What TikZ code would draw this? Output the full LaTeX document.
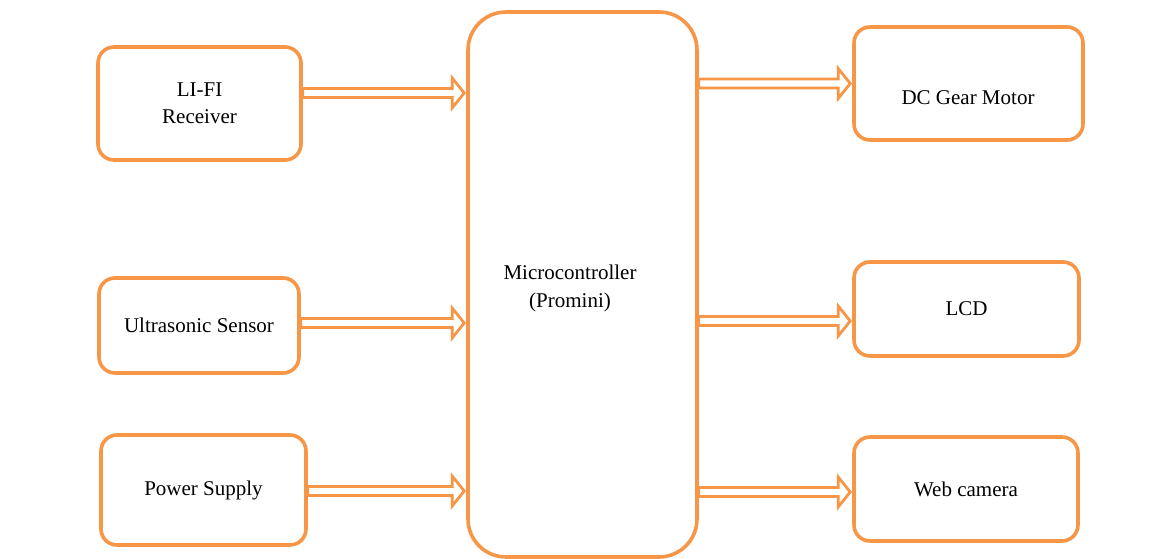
\documentclass[tikz,border=0pt]{standalone}
\usepackage{fontspec}
\setmainfont{Liberation Serif}
\usetikzlibrary{calc}
\definecolor{borange}{RGB}{247,150,70}
\tikzset{
  box/.style={draw=borange, line width=3.6pt, rounded corners=16pt, fill=white, align=center,
    font=\fontsize{21}{25}\selectfont, inner sep=0pt},
  bigbox/.style={box, rounded corners=38pt},
  lbl/.style={font=\fontsize{21}{25}\selectfont, align=center, inner sep=0pt},
  harrowstyle/.style={draw=borange, line width=2.8pt, fill=white, line join=miter}
}
\newcommand\harrow[2]{%
  \path[harrowstyle] let \p1=(#1), \p2=(#2) in
    (\x1,\y1+4.5pt) -- (\x2-14pt,\y1+4.5pt) -- (\x2-14pt,\y1+15pt) -- (\x2-2pt,\y1)
    -- (\x2-14pt,\y1-15pt) -- (\x2-14pt,\y1-4.5pt) -- (\x1,\y1-4.5pt) -- cycle;}
\begin{document}
\begin{tikzpicture}[x=1pt,y=-1pt]
\useasboundingbox (0,0) rectangle (1165,559);
% boxes
\node[box, minimum width=203pt, minimum height=113pt] (lifi) at (199.5,103.5) {LI-FI\\[2pt]Receiver};
\node[box, minimum width=200pt, minimum height=95pt] (ultra) at (199,325.5) {Ultrasonic Sensor};
\node[box, minimum width=205pt, minimum height=110pt] (power) at (203.5,490) {Power Supply};
\node[bigbox, minimum width=229pt, minimum height=545pt] (mcu) at (582.5,284.5) {};
\node[lbl] (mcut) at (570,288) {Microcontroller\\[3pt](Promini)};
\node[box, minimum width=229pt, minimum height=113pt] (dc) at (968.5,83.5) {};
\node[lbl] (dct) at (968,98) {DC Gear Motor};
\node[box, minimum width=225pt, minimum height=94pt] (lcd) at (966.5,309) {LCD};
\node[box, minimum width=224pt, minimum height=104pt] (web) at (966,489) {Web camera};
% arrows
\harrow{[yshift=10.5pt]lifi.east}{mcu.west}
\harrow{[yshift=2.5pt]ultra.east}{mcu.west}
\harrow{[yshift=-1pt]power.east}{mcu.west}
\harrow{mcu.east |- dc.west}{dc.west}
\harrow{[yshift=-12pt]mcu.east |- lcd.west}{lcd.west}
\harrow{[yshift=-3pt]mcu.east |- web.west}{web.west}
\end{tikzpicture}
\end{document}
